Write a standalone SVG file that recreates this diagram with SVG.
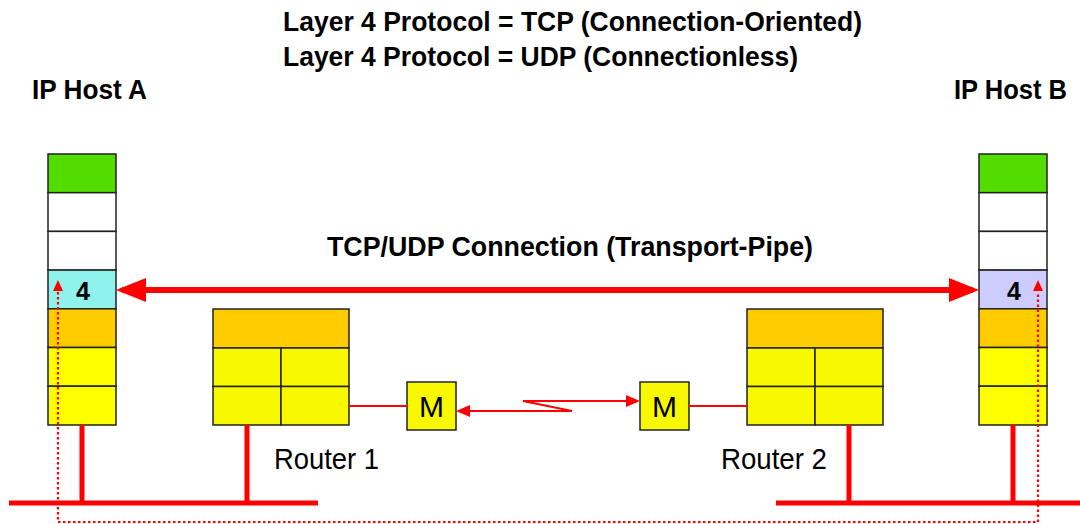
<svg xmlns="http://www.w3.org/2000/svg" width="1080" height="524" viewBox="0 0 1080 524">
<style>
.lay{stroke:#222;stroke-width:1.5}
.g{fill:#52dc00}.w{fill:#fff}.c{fill:#8ff3ec}.l{fill:#ccccff}.o{fill:#ffcc00}.y{fill:#ffff00}.ry{fill:#f8f800}
.t{font-family:"Liberation Sans Narrow","Liberation Sans",Arial,sans-serif;fill:#000}
.b{font-weight:bold}
.bus{stroke:#ff0000;stroke-width:5;fill:none}
.thin{stroke:#ff0000;stroke-width:2;fill:none}
.dot{stroke:#ff0000;stroke-width:2.2;stroke-dasharray:2.5 2.5;fill:none}
</style>
<text class="t b" x="283" y="31" font-size="27" textLength="579" lengthAdjust="spacingAndGlyphs">Layer 4 Protocol = TCP (Connection-Oriented)</text>
<text class="t b" x="283" y="66" font-size="27" textLength="515" lengthAdjust="spacingAndGlyphs">Layer 4 Protocol = UDP (Connectionless)</text>
<g id="hostA">
<text class="t b" x="32" y="99" font-size="28" textLength="115" lengthAdjust="spacingAndGlyphs">IP Host A</text>
<rect class="lay g" x="48" y="154" width="68" height="38.7"/>
<rect class="lay w" x="48" y="192.7" width="68" height="38.7"/>
<rect class="lay w" x="48" y="231.4" width="68" height="38.7"/>
<rect class="lay c" x="48" y="270.1" width="68" height="38.7"/>
<rect class="lay o" x="48" y="308.8" width="68" height="38.7"/>
<rect class="lay y" x="48" y="347.5" width="68" height="38.7"/>
<rect class="lay y" x="48" y="386.2" width="68" height="38.8"/>
<text class="t b" x="83" y="300" font-size="25" text-anchor="middle">4</text>
</g>
<g id="hostB">
<text class="t b" x="954" y="99" font-size="28" textLength="113" lengthAdjust="spacingAndGlyphs">IP Host B</text>
<rect class="lay g" x="979" y="154" width="68" height="38.7"/>
<rect class="lay w" x="979" y="192.7" width="68" height="38.7"/>
<rect class="lay w" x="979" y="231.4" width="68" height="38.7"/>
<rect class="lay l" x="979" y="270.1" width="68" height="38.7"/>
<rect class="lay o" x="979" y="308.8" width="68" height="38.7"/>
<rect class="lay y" x="979" y="347.5" width="68" height="38.7"/>
<rect class="lay y" x="979" y="386.2" width="68" height="38.8"/>
<text class="t b" x="1014" y="300" font-size="25" text-anchor="middle">4</text>
</g>
<g id="router1">
<rect class="lay o" x="213" y="309" width="136" height="39"/>
<rect class="lay ry" x="213" y="348" width="68" height="38.5"/>
<rect class="lay ry" x="281" y="348" width="68" height="38.5"/>
<rect class="lay ry" x="213" y="386.5" width="68" height="38.5"/>
<rect class="lay ry" x="281" y="386.5" width="68" height="38.5"/>
<text class="t" x="274" y="469" font-size="29" textLength="105" lengthAdjust="spacingAndGlyphs">Router 1</text>
</g>
<g id="router2">
<rect class="lay o" x="747" y="309" width="136" height="39"/>
<rect class="lay ry" x="747" y="348" width="68" height="38.5"/>
<rect class="lay ry" x="815" y="348" width="68" height="38.5"/>
<rect class="lay ry" x="747" y="386.5" width="68" height="38.5"/>
<rect class="lay ry" x="815" y="386.5" width="68" height="38.5"/>
<text class="t" x="721" y="469" font-size="29" textLength="106" lengthAdjust="spacingAndGlyphs">Router 2</text>
</g>
<g id="modem1">
<rect class="lay ry" x="407" y="382" width="49" height="48"/>
<text class="t" x="431.5" y="417" font-size="30" text-anchor="middle">M</text>
</g>
<g id="modem2">
<rect class="lay ry" x="640" y="382" width="49" height="48"/>
<text class="t" x="664.5" y="417" font-size="30" text-anchor="middle">M</text>
</g>
<text class="t b" x="327" y="256" font-size="27" textLength="486" lengthAdjust="spacingAndGlyphs">TCP/UDP Connection (Transport-Pipe)</text>
<g id="connectors">
<path class="bus" d="M9,503 H318 M776,503 H1080 M82,425 V503 M247,425 V503 M849,425 V503 M1013,425 V503"/>
<line x1="122" y1="290" x2="973" y2="290" stroke="#ff0000" stroke-width="6"/>
<path d="M116,290 L146,278 L146,302 Z M979,290 L949,278 L949,302 Z" fill="#ff0000"/>
<path class="thin" d="M349,406 H407 M689,406 H747"/>
<path class="thin" d="M470,411 H572 L523,401 H626"/>
<path d="M456,411 L470,405 L470,417 Z M640,401 L626,395 L626,407 Z" fill="#ff0000"/>
<path class="dot" d="M58,292 V522 H1038 V292"/>
<path d="M58,280 L53,291 L63,291 Z M1038,280 L1033,291 L1043,291 Z" fill="#ff0000"/>
</g>
</svg>
